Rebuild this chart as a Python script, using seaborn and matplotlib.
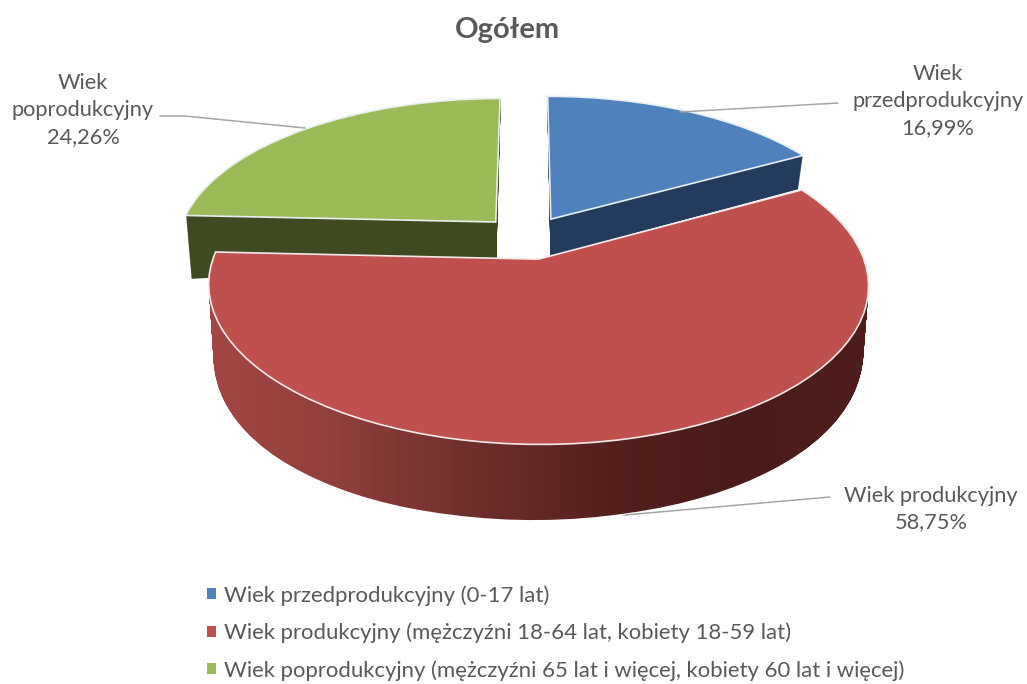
import numpy as np
import seaborn as sns
import matplotlib
matplotlib.use("Agg")
import matplotlib.pyplot as plt
from matplotlib.path import Path
from matplotlib.patches import Patch
from matplotlib.transforms import Transform

# values
groups = ["Wiek przedprodukcyjny", "Wiek produkcyjny", "Wiek poprodukcyjny"]
shares = [16.99, 58.75, 24.26]
legend_labels = [
    "Wiek przedprodukcyjny (0-17 lat)",
    "Wiek produkcyjny (mężczyźni 18-64 lat, kobiety 18-59 lat)",
    "Wiek poprodukcyjny (mężczyźni 65 lat i więcej, kobiety 60 lat i więcej)",
]
title = "Ogółem"

top_colors = ["#4f81bd", "#c0504d", "#9bbb59"]
side_colors = ["#233b5c", "#7a2f2d", "#3f4a20"]
red_side_ramp = ["#a44744", "#8f3f3c", "#6f2f2c", "#55201e", "#4a1b1a", "#4f1e1c"]
text_color = "#595959"
line_color = "#a6a6a6"

EXPLODE = 0.147
N_LAYERS = 70


class TiltedPie(Transform):
    """pie plane -> pixels, with a bit of perspective; z=1 is the bottom of the slab"""
    input_dims = 2
    output_dims = 2

    def __init__(self, z=0.0):
        super().__init__()
        self.z = z

    def transform_non_affine(self, values):
        u, v = values[:, 0], values[:, 1]
        w = 1 + 0.16 * v
        depth = 40.9 - 5.1 * u - 30.2 * v + 17.8 * u ** 2
        x = 527.5 + 318 * u / w - 5 * u * self.z
        y = 237.5 - 147.9 * v / w + depth * self.z
        return np.column_stack([x, y])


def draw_pie(ax, z, show, zorder, colors):
    wedges, _ = ax.pie(shares, explode=[EXPLODE] * 3, colors=colors, startangle=90,
                       counterclock=False, wedgeprops=dict(linewidth=0))
    tilt = TiltedPie(z)
    for i, w in enumerate(wedges):
        w.set_transform(tilt + ax.transData)
        w.set_visible(i in show)
        w.set_zorder(zorder)
    return wedges


sns.set_theme(style="white")
plt.rcParams["font.family"] = ["Lato", "DejaVu Sans"]

fig = plt.figure(figsize=(10.27, 6.84), dpi=100)
ax = fig.add_axes([0, 0, 1, 1])

# slab sides: stack of pies going down
red_layers = []
for z in np.linspace(1, 0.02, N_LAYERS):
    wedges = draw_pie(ax, z, [0, 2], 1, side_colors)
    red_layers.append(TiltedPie(z).transform_path(wedges[1].get_path()))

# top faces of blue and green
tops = draw_pie(ax, 0, [0, 2], 2, top_colors)
for i in [0, 2]:
    tops[i].set_edgecolor("#e9eef0")
    tops[i].set_linewidth(1.2)

# red side has a horizontal shading
ramp = sns.blend_palette(red_side_ramp, as_cmap=True)
im = ax.imshow(np.linspace(0, 1, 256)[None, :], cmap=ramp, aspect="auto",
               extent=(205, 872, 530, 240), zorder=3)
im.set_clip_path(Path.make_compound_path(*red_layers), transform=ax.transData)

red_top = draw_pie(ax, 0, [1], 4, top_colors)[1]
red_top.set_edgecolor("#f4e9e8")
red_top.set_linewidth(1.2)

ax.set_aspect("auto")
ax.set_xlim(0, 1027)
ax.set_ylim(684, 0)
ax.axis("off")

# leader lines
ax.plot([838, 680], [103, 112], color=line_color, lw=1.1, zorder=5)
ax.plot([830, 625], [497, 515], color=line_color, lw=1.1, zorder=5)
ax.plot([160, 185, 305], [116, 116, 128], color=line_color, lw=1.1, zorder=5)

# data labels
label_pos = [(938, 101), (931, 509), (83, 110)]
label_text = [
    "Wiek\nprzedprodukcyjny\n{}%",
    "Wiek produkcyjny\n{}%",
    "Wiek\npoprodukcyjny\n{}%",
]
for (lx, ly), txt, val in zip(label_pos, label_text, shares):
    ax.text(lx, ly, txt.format(f"{val:.2f}".replace(".", ",")), ha="center", va="center",
            fontsize=15.7, color=text_color, linespacing=1.43, zorder=6)

ax.text(507, 30, title, ha="center", va="center", fontsize=21, fontweight="bold", color=text_color)

handles = [Patch(facecolor=c, edgecolor="none") for c in top_colors]
leg = fig.legend(handles, legend_labels, loc="upper left", bbox_to_anchor=(207 / 1027, 1 - 585 / 684),
                 frameon=False, fontsize=15.9, labelcolor=text_color, handlelength=0.4, handleheight=0.4,
                 handletextpad=0.36, labelspacing=0.77, borderpad=0, borderaxespad=0)

fig.savefig("out.png", dpi=100)
